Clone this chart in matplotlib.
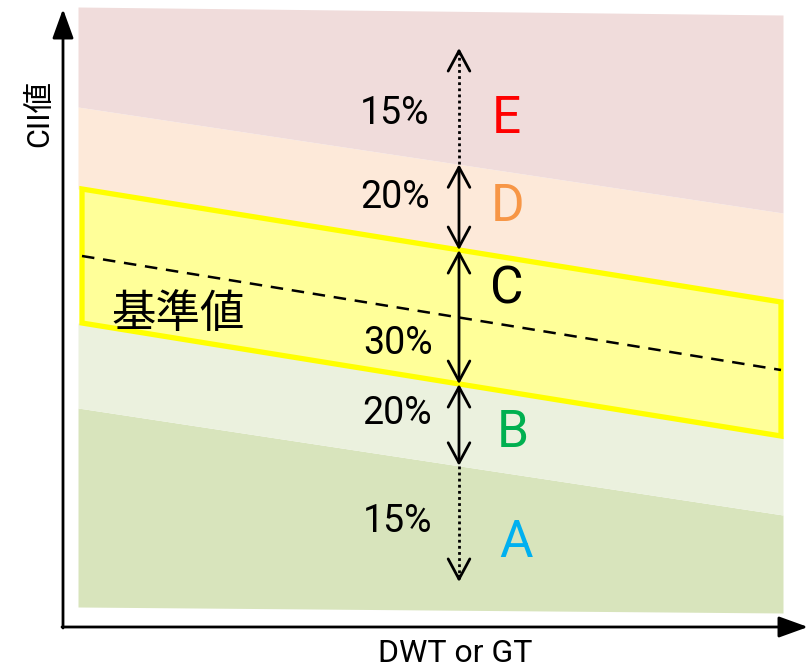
import numpy as np
import matplotlib
matplotlib.use("Agg")
import matplotlib.pyplot as plt

# ---------------- data (schematic, figure units with y upward) ----------------
x_ends = [78, 783]                     # DWT range of the bands
top_E = [660, 652]                     # upper edge of region E
bound_DE = [560, 454]                  # D/E boundary
bound_CD = [478, 365]                  # C/D boundary (upper edge of yellow box)
reference = [411, 297]                 # 基準値 (dashed)
bound_BC = [344, 231]                  # B/C boundary (lower edge of yellow box)
bound_AB = [259, 152]                  # A/B boundary
bottom_A = [60, 54]                    # lower edge of region A

grades = ["A", "B", "C", "D", "E"]
grade_colors = ["#00B0F0", "#00B050", "#000000", "#F79646", "#FF0000"]
band_colors = ["#D8E4BC", "#EBF1DE", "#FFFF99", "#FDE9D9", "#F0DCDB"]
percents = ["15%", "20%", "30%", "20%", "15%"]

arrow_x = 459
arrow_top = 619
arrow_bottom = 85

pct_pos = [(398, 145), (397, 254), (398, 324), (395, 470), (395, 554)]
grade_pos = [(516, 124), (513, 234), (507, 377), (508, 460), (506, 548)]

# ---------------- fonts ----------------
fam = ["Roboto", "Noto Sans CJK JP", "DejaVu Sans"]
cjk = ["Noto Sans CJK JP", "DejaVu Sans"]

fig = plt.figure(figsize=(8.11, 6.67), dpi=100)
ax = fig.add_axes([0, 0, 1, 1])
ax.set_xlim(0, 811)
ax.set_ylim(0, 667)
ax.axis("off")

xs = np.array(x_ends, dtype=float)

# bands
ax.fill_between(xs, bottom_A, bound_AB, color=band_colors[0], lw=0, zorder=1)
ax.fill_between(xs, bound_AB, bound_BC, color=band_colors[1], lw=0, zorder=1)
ax.fill_between(xs, bound_CD, bound_DE, color=band_colors[3], lw=0, zorder=1)
ax.fill_between(xs, bound_DE, top_E, color=band_colors[4], lw=0, zorder=1)

# yellow box (C)
bx = [x_ends[0] + 4, x_ends[1] - 2]
poly_x = [bx[0], bx[1], bx[1], bx[0]]
poly_y = [bound_CD[0], bound_CD[1], bound_BC[1], bound_BC[0]]
ax.fill(poly_x, poly_y, facecolor=band_colors[2], edgecolor="#FFFF00",
        linewidth=3.8, joinstyle="miter", zorder=2)

# reference dashed line
ax.plot(bx, reference, color="black", lw=1.8, ls=(0, (5, 3.5)), zorder=3)
ax.text(178, 353, "基準値", family=cjk, fontsize=32, ha="center", va="center", zorder=4)

# boundary values at the arrow position
def at(b):
    return float(np.interp(arrow_x, xs, b))

yDE, yCD, yBC, yAB = at(bound_DE), at(bound_CD), at(bound_BC), at(bound_AB)

def dbl(y0, y1):
    ax.annotate("", xy=(arrow_x, y1), xytext=(arrow_x, y0),
                arrowprops=dict(arrowstyle="<->, head_length=1.45, head_width=0.78",
                                mutation_scale=10, lw=2.0, color="black",
                                shrinkA=0, shrinkB=0), zorder=5)

dbl(yDE, yCD)
dbl(yCD, yBC)
dbl(yBC, yAB)

# dotted arrows (E and A)
ax.plot([arrow_x, arrow_x], [yDE, arrow_top - 2], color="black", lw=2.0, ls=(0, (1, 1.2)), zorder=5)
ax.plot([arrow_x, arrow_x], [yAB, arrow_bottom + 2], color="black", lw=2.0, ls=(0, (1, 1.2)), zorder=5)
for y_tip, y_from in [(arrow_top, arrow_top - 6), (arrow_bottom, arrow_bottom + 6)]:
    ax.annotate("", xy=(arrow_x, y_tip), xytext=(arrow_x, y_from),
                arrowprops=dict(arrowstyle="->, head_length=1.45, head_width=0.78",
                                mutation_scale=10, lw=2.0, color="black",
                                shrinkA=0, shrinkB=0), zorder=5)

# labels
for (px, py), t in zip(pct_pos, percents):
    ax.text(px, py, t, family=fam, fontsize=27, ha="center", va="center", zorder=6)
for (gx, gy), g, c in zip(grade_pos, grades, grade_colors):
    ax.text(gx, gy, g, family=fam, fontsize=37, ha="center", va="center", color=c, zorder=6)

# axes arrows
ax.annotate("", xy=(63, 658), xytext=(63, 39),
            arrowprops=dict(arrowstyle="-|>, head_length=1.8, head_width=0.65",
                            mutation_scale=10, lw=2.0, color="black", shrinkA=0, shrinkB=0))
ax.annotate("", xy=(808, 40), xytext=(62, 40),
            arrowprops=dict(arrowstyle="-|>, head_length=1.8, head_width=0.65",
                            mutation_scale=10, lw=2.0, color="black", shrinkA=0, shrinkB=0))

ax.text(40, 554, "CII値", family=fam, fontsize=22, rotation=90, ha="center", va="center")
ax.text(455, 14, "DWT or GT", family=fam, fontsize=23, ha="center", va="center")

fig.savefig("out.png", dpi=100)
